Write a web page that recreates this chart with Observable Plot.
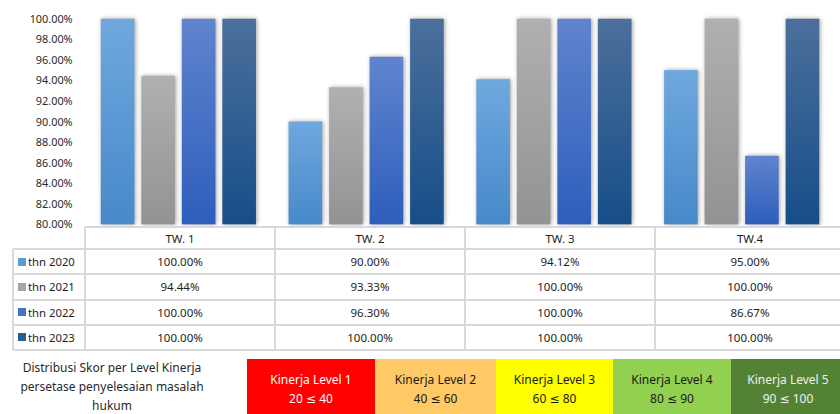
<!DOCTYPE html>
<html>
<head>
<meta charset="utf-8">
<script src="https://cdn.jsdelivr.net/npm/d3@7"></script>
<script src="https://cdn.jsdelivr.net/npm/@observablehq/plot@0.6"></script>
<style>
  html, body { margin: 0; padding: 0; background: #fff; }
  #wrap { position: relative; width: 840px; height: 414px; overflow: hidden; background: #fff; font-family: "Noto Sans", "DejaVu Sans", sans-serif; }
  #wrap svg { position: absolute; left: 0; top: 0; }
  .ln { position: absolute; background: #d9d9d9; }
  .cell { position: absolute; display: flex; align-items: center; justify-content: center; font-size: 11.5px; color: #1e1e1e; white-space: nowrap; }
  .rl { position: absolute; display: flex; align-items: center; font-size: 11.3px; color: #1e1e1e; white-space: nowrap; }
  .sw { display: inline-block; width: 8px; height: 8px; margin-right: 2px; }
  .lvl { position: absolute; box-sizing: border-box; text-align: center; font-size: 12px; line-height: 19px; padding-top: 11px; white-space: nowrap; }
  #note { position: absolute; left: 0; width: 224px; top: 358px; text-align: center; font-size: 12px; line-height: 19px; color: #2a2a2a; }
</style>
</head>
<body>
<div id="wrap"></div>
<script>
// ---- data ----
const quarters = ["TW. 1", "TW. 2", "TW. 3", "TW.4"];
const years = ["thn 2020", "thn 2021", "thn 2022", "thn 2023"];
const v2020 = [1.00, 0.90, 0.9412, 0.95];
const v2021 = [0.9444, 0.9333, 1.00, 1.00];
const v2022 = [1.00, 0.9630, 1.00, 0.8667];
const v2023 = [1.00, 1.00, 1.00, 1.00];
const yTicks = [0.80, 0.82, 0.84, 0.86, 0.88, 0.90, 0.92, 0.94, 0.96, 0.98, 1.00];
const gradTop = ["#6fa8de", "#b0b0b0", "#6084ce", "#4c6f9c"];
const gradBottom = ["#4789ca", "#939393", "#2d5ebc", "#164e88"];
const swatch = ["#5b9bd5", "#a5a5a5", "#4472c4", "#255e91"];
const noteLines = ["Distribusi Skor per Level Kinerja", "persetase penyelesaian masalah", "hukum"];
const levelNames = ["Kinerja Level 1", "Kinerja Level 2", "Kinerja Level 3", "Kinerja Level 4", "Kinerja Level 5"];
const levelRanges = ["20 \u2264 40", "40 \u2264 60", "60 \u2264 80", "80 \u2264 90", "90 \u2264 100"];
const levelFill = ["#ff0000", "#ffc966", "#ffff00", "#92d050", "#548235"];
const levelText = ["#ffffff", "#1a1a1a", "#1a1a1a", "#1a1a1a", "#f0f0f0"];

const series = [v2020, v2021, v2022, v2023];
const data = [];
years.forEach((yr, i) => quarters.forEach((q, j) => data.push({year: yr, quarter: q, value: series[i][j]})));
const fmt = d3.format(".2%");
const gid = yr => "g" + yr.replace(/\s/g, "");

const chart = Plot.plot({
  width: 850,
  height: 240,
  marginLeft: 83,
  marginRight: 4,
  marginTop: 19,
  marginBottom: 13,
  style: {fontFamily: "'Noto Sans', sans-serif", fontSize: "11px", color: "#2a2a2a", background: "transparent"},
  fx: {domain: quarters, paddingInner: 0, paddingOuter: 0, axis: null, label: null},
  x: {domain: years, paddingInner: 0.18, paddingOuter: 0.39, axis: null, label: null},
  y: {domain: [0.8, 1.0], ticks: yTicks, tickFormat: fmt, tickSize: 0, tickPadding: 12, label: null},
  marks: [
    ...years.map(yr => Plot.barY(data, {
      filter: d => d.year === yr,
      fx: "quarter", x: "year", y1: () => 0.8, y2: "value",
      fill: `url(#${gid(yr)})`
    }))
  ]
});

// gradients & shadows
const svgSel = d3.select(chart);
const defs = svgSel.insert("defs", ":first-child");
years.forEach((yr, i) => {
  const g = defs.append("linearGradient").attr("id", gid(yr)).attr("x1", 0).attr("y1", 0).attr("x2", 0).attr("y2", 1);
  g.append("stop").attr("offset", "0%").attr("stop-color", gradTop[i]);
  g.append("stop").attr("offset", "100%").attr("stop-color", gradBottom[i]);
});
svgSel.selectAll("g[aria-label='bar'] rect").style("filter", "drop-shadow(1px 0px 2px rgba(0,0,0,0.38))");

const wrap = document.getElementById("wrap");
wrap.appendChild(chart);

// ---- table aligned to the fx scale ----
const fxs = chart.scale("fx");
const colLeft = quarters.map(q => fxs.apply(q));
const bw = colLeft[1] - colLeft[0];
const tableLeft = 13, labelRight = colLeft[0];
const headTop = 227, headBottom = 249, rowH = 25.25;
const rowTops = years.map((_, i) => headBottom + i * rowH);
const tableBottom = headBottom + years.length * rowH;

function line(x, y, w, h) {
  const d = document.createElement("div");
  d.className = "ln";
  Object.assign(d.style, {left: x + "px", top: y + "px", width: w + "px", height: h + "px"});
  wrap.appendChild(d);
}
function cell(cls, x, y, w, h, html) {
  const d = document.createElement("div");
  d.className = cls;
  Object.assign(d.style, {left: x + "px", top: y + "px", width: w + "px", height: h + "px"});
  d.innerHTML = html;
  wrap.appendChild(d);
  return d;
}
// horizontal lines
line(labelRight, headTop - 1, 840 - labelRight, 2);
[headBottom, ...rowTops.slice(1), tableBottom].forEach(y => line(tableLeft, y - 1, 840 - tableLeft, 2));
// vertical lines
line(tableLeft - 1, headBottom, 2, tableBottom - headBottom);
colLeft.forEach(x => line(x - 1, headTop, 2, tableBottom - headTop));
line(colLeft[3] + bw - 1, headTop, 2, tableBottom - headTop);

// header
quarters.forEach((q, j) => cell("cell", colLeft[j], headTop, bw, headBottom - headTop, q));
// rows
years.forEach((yr, i) => {
  cell("rl", tableLeft + 5, rowTops[i], labelRight - tableLeft - 5, rowH,
    `<span class="sw" style="background:${swatch[i]}"></span>${yr}`);
  quarters.forEach((q, j) => cell("cell", colLeft[j], rowTops[i], bw, rowH, fmt(series[i][j])));
});

// ---- bottom note and level boxes ----
const note = document.createElement("div");
note.id = "note";
note.innerHTML = noteLines.join("<br>");
wrap.appendChild(note);

const lvlLeft = [247, 375, 496, 613, 731];
levelNames.forEach((n, i) => {
  const right = i < lvlLeft.length - 1 ? lvlLeft[i + 1] : 845;
  const d = cell("lvl", lvlLeft[i], 359, right - lvlLeft[i], 60, n + "<br>" + levelRanges[i]);
  d.style.background = levelFill[i];
  d.style.color = levelText[i];
});
</script>
</body>
</html>
